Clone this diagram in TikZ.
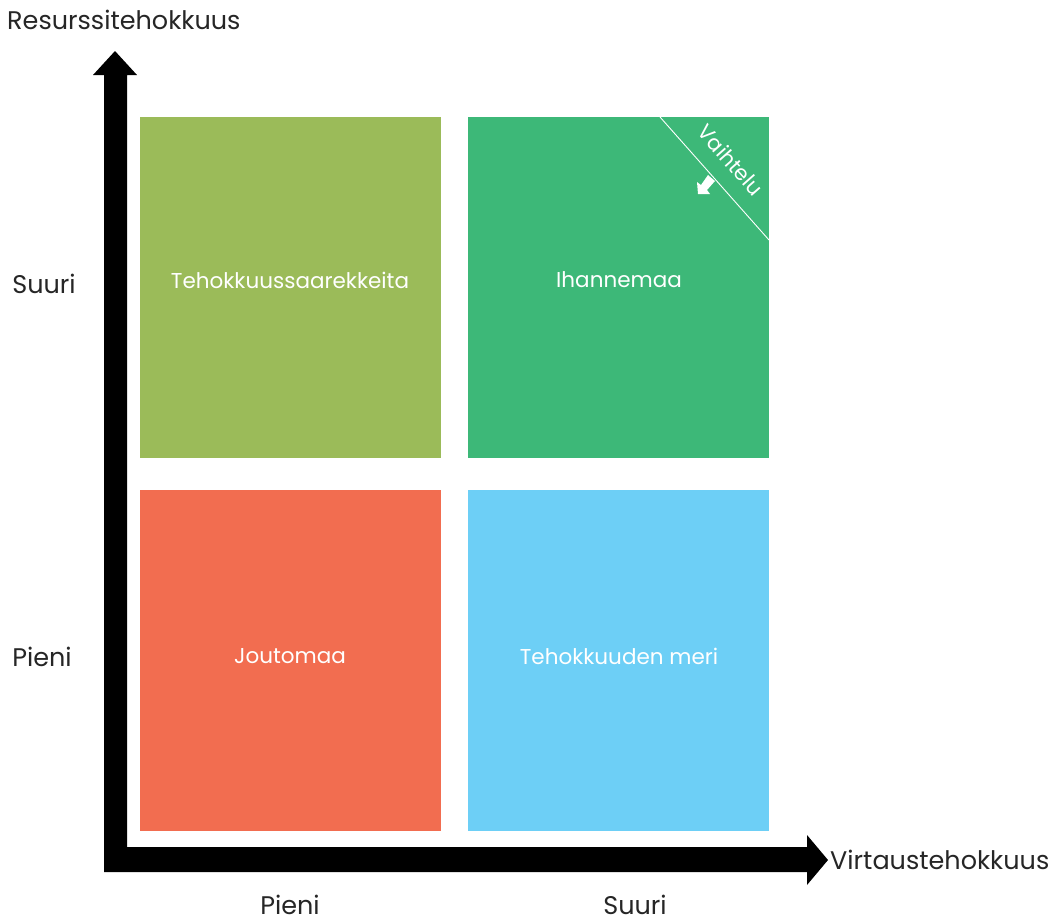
\documentclass[tikz,border=0pt]{standalone}
\usepackage{fontspec}
\setmainfont{Poppins}
\begin{document}
\begin{tikzpicture}[x=1pt,y=-1pt,
  quad/.style={draw=none,minimum width=301pt,minimum height=341pt,anchor=north west,inner sep=0pt,outer sep=0pt},
  qtext/.style={text=white,font=\fontsize{21.5}{24}\selectfont},
  axtext/.style={text=black!85,inner sep=0pt,font=\fontsize{25.5}{28}\selectfont},
  axis/.style={fill=black,draw=none}]
\useasboundingbox[fill=white] (0,0) rectangle (1061,922);
\definecolor{qyg}{HTML}{9BBB59}
\definecolor{qgr}{HTML}{3DB878}
\definecolor{qrd}{HTML}{F26D50}
\definecolor{qbl}{HTML}{6DCFF6}
% quadrants
\node[quad,fill=qyg] (q1) at (140,117) {};
\node[quad,fill=qgr] (q2) at (468,117) {};
\node[quad,fill=qrd] (q3) at (140,490) {};
\node[quad,fill=qbl] (q4) at (468,490) {};
\node[qtext] (t1) at (290,280) {Tehokkuussaarekkeita};
\node[qtext] (t2) at (619,280) {Ihannemaa};
\node[qtext] (t3) at (290,656) {Joutomaa};
\node[qtext] (t4) at (619,656) {Tehokkuuden meri};
% diagonal in green
\coordinate (d1) at (660,117);
\coordinate (d2) at (769,240);
\draw[white,line width=0.9pt] (d1) -- (d2);
\node[text=white,rotate=-48.5,font=\fontsize{21}{24}\selectfont,inner sep=0pt] (vt) at (731,160) {Vaihtelu};
\fill[white] (698,194) -- (697,182) -- (701,185) -- (708,175) -- (715,181) -- (707,190) -- (710,194) -- cycle;
% axes
\fill[axis] (104,872) -- (104,75) -- (93,75) -- (115,51) -- (137,75) -- (127,75) -- (127,847) -- (807,847) -- (807,835) -- (828,860) -- (807,885) -- (807,872) -- cycle;
% axis labels
\node[axtext,anchor=west] (ry) at (7,20) {Resurssitehokkuus};
\node[axtext,anchor=west] (rx) at (830,860) {Virtaustehokkuus};
\node[axtext] (ys) at (44,284) {Suuri};
\node[axtext] (yp) at (42,657) {Pieni};
\node[axtext] (xp) at (290,905) {Pieni};
\node[axtext] (xs) at (635,905) {Suuri};
\end{tikzpicture}
\end{document}
